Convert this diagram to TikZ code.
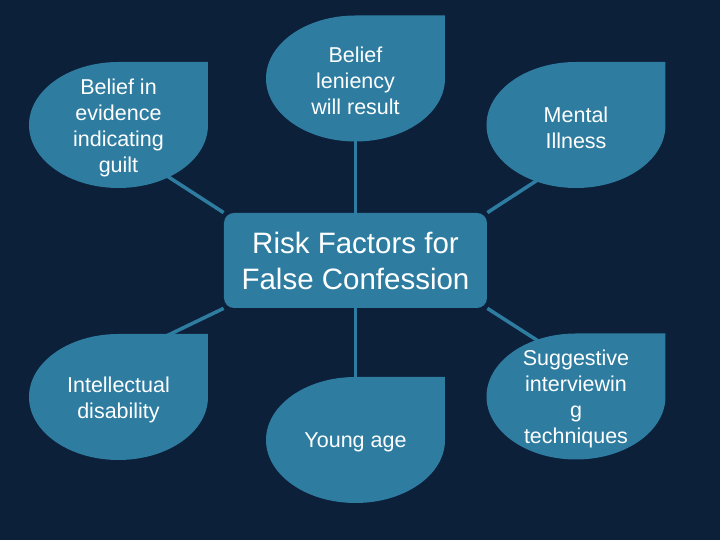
\documentclass[tikz,border=0pt]{standalone}
\usepackage{fontspec}
\setmainfont{Liberation Sans}
\usepackage{tikz}
\definecolor{navybg}{RGB}{12,32,58}
\definecolor{leafblue}{RGB}{46,125,161}
\pgfdeclarelayer{back}
\pgfsetlayers{back,main}

\begin{document}
\begin{tikzpicture}[x=0.5pt, y=0.5pt,
    every node/.style={text=white, align=center},
    leaftext/.style={font=\fontsize{10.75}{13}\selectfont},
    hub/.style={fill=leafblue, rounded corners=5pt, minimum width=131.5pt,
        minimum height=47.5pt, inner sep=0pt, font=\fontsize{14.75}{18}\selectfont},
    link/.style={draw=leafblue, line width=1.75pt}]
    \useasboundingbox (0,0) rectangle (720,540);
    \begin{pgfonlayer}{back}
        \fill[navybg] (0,0) rectangle (720,540);
    \end{pgfonlayer}
    \foreach \cx/\cy/\nm/\txt in {
        118.5/415/evid/{Belief in\\evidence\\indicating\\guilt},
        355.5/461.5/lenient/{Belief\\leniency\\will result},
        576/415/mental/{Mental\\Illness},
        118.5/143/intel/{Intellectual\\disability},
        355.5/100/young/{Young age},
        576/143.5/suggest/{Suggestive\\interviewin\\g\\techniques}} {
        \fill[leafblue] (\cx,\cy+63) -- (\cx+89.5,\cy+63) -- (\cx+89.5,\cy)
            arc[start angle=0, end angle=-180, x radius=89.5, y radius=63]
            arc[start angle=180, end angle=90, x radius=89.5, y radius=63] -- cycle;
        \node[leaftext] (\nm) at (\cx,\cy-2.5) {\txt};
    }
    \node[hub] (hub) at (355.5,279.5) {Risk Factors for\\False Confession};
    \coordinate (evid-pin) at (150,375);
    \coordinate (mental-pin) at (553,370);
    \coordinate (intel-pin) at (158,200);
    \coordinate (suggest-pin) at (557,187);
    \begin{pgfonlayer}{back}
        \draw[link] (hub.north west) -- (evid-pin);
        \draw[link] (hub.north) -- (lenient);
        \draw[link] (hub.north east) -- (mental-pin);
        \draw[link] (hub.south west) -- (intel-pin);
        \draw[link] (hub.south) -- (young);
        \draw[link] (hub.south east) -- (suggest-pin);
    \end{pgfonlayer}
\end{tikzpicture}
\end{document}
